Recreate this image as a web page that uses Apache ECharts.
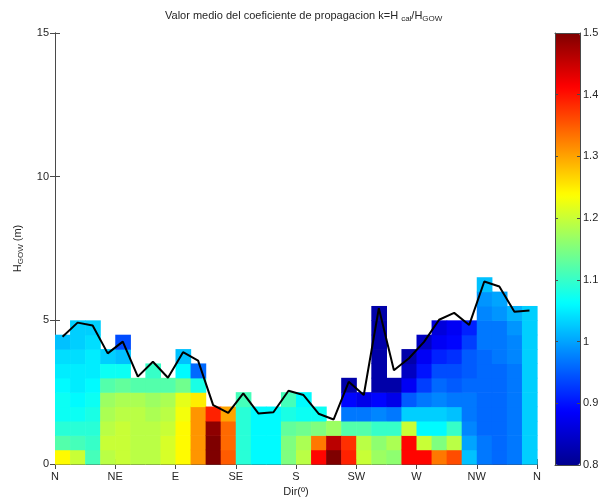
<!DOCTYPE html>
<html><head><meta charset="utf-8">
<script src="https://cdn.jsdelivr.net/npm/echarts@6/dist/echarts.min.js"></script>
<style>html,body{margin:0;padding:0;background:#fff}#c{width:602px;height:499px}</style>
</head><body><div id="c"></div>
<script>
// Direction tick labels (0..360 deg, every 45 deg)
const dirLabels = ['N','NE','E','SE','S','SW','W','NW','N'];
const dirBinWidth = 11.25;   // deg per direction bin (32 bins)
const hBinHeight = 0.5;      // m per H_GOW bin
const kTicks = [0.8, 0.9, 1, 1.1, 1.2, 1.3, 1.4, 1.5];
const hTicks = [0, 5, 10, 15];

// Mean propagation coefficient k per direction bin (N -> N), from H=0 upward in 0.5 m steps
const kByDir = [
  [1.24, 1.12, 1.09, 1.07, 1.07, 1.06, 1.05, 1.04, 1.02],
  [1.20, 1.11, 1.09, 1.07, 1.06, 1.05, 1.05, 1.04, 1.03, 1.03],
  [1.11, 1.10, 1.09, 1.08, 1.07, 1.06, 1.05, 1.05, 1.04, 1.03],
  [1.19, 1.20, 1.19, 1.18, 1.17, 1.12, 1.07, 1.03],
  [1.20, 1.20, 1.20, 1.19, 1.18, 1.13, 1.07, 1.02, 0.94],
  [1.19, 1.19, 1.19, 1.19, 1.18, 1.12],
  [1.19, 1.19, 1.19, 1.18, 1.17, 1.12, 1.10],
  [1.21, 1.21, 1.20, 1.19, 1.18, 1.12],
  [1.24, 1.24, 1.24, 1.23, 1.22, 1.14, 1.06, 1.02],
  [1.31, 1.31, 1.31, 1.31, 1.25, 1.08, 0.96],
  [1.50, 1.50, 1.49, 1.39],
  [1.35, 1.34, 1.34, 1.30],
  [1.09, 1.09, 1.09, 1.09, 1.11],
  [1.06, 1.06, 1.06, 1.06],
  [1.06, 1.06, 1.06, 1.06],
  [1.15, 1.15, 1.13, 1.08, 1.11],
  [1.19, 1.18, 1.14, 1.07, 1.06],
  [1.41, 1.33, 1.15, 1.07],
  [1.50, 1.46, 1.17],
  [1.39, 1.38, 1.12, 0.97, 0.89, 0.82],
  [1.20, 1.19, 1.12, 0.97, 0.87],
  [1.17, 1.16, 1.10, 0.98, 0.89, 0.82, 0.82, 0.82, 0.82, 0.82, 0.82],
  [1.16, 1.18, 1.10, 0.97, 0.87, 0.82],
  [1.41, 1.41, 1.20, 1.03, 0.95, 0.88, 0.84, 0.82],
  [1.41, 1.20, 1.06, 1.03, 0.97, 0.93, 0.90, 0.88, 0.84],
  [1.33, 1.15, 1.06, 1.03, 0.98, 0.96, 0.94, 0.91, 0.88, 0.86],
  [1.36, 1.19, 1.10, 1.02, 0.97, 0.95, 0.94, 0.92, 0.89, 0.88],
  [1.02, 1.00, 0.98, 0.97, 0.97, 0.96, 0.95, 0.95, 0.93, 0.91],
  [0.97, 0.97, 0.96, 0.96, 0.96, 0.96, 0.96, 0.96, 0.97, 0.97, 0.98, 0.99, 1.02],
  [0.96, 0.96, 0.96, 0.96, 0.96, 0.96, 0.96, 0.97, 0.97, 0.97, 0.99, 1.00],
  [0.97, 0.97, 0.97, 0.97, 0.97, 0.97, 0.97, 0.98, 0.98, 0.99, 1.01],
  [1.03, 1.03, 1.03, 1.03, 1.03, 1.03, 1.03, 1.03, 1.03, 1.03, 1.03]
];

// Black line: H_GOW value per direction bin
const meanH = [4.43, 4.92, 4.82, 3.85, 4.26, 3.04, 3.56, 3.00, 3.89, 3.60,
               2.05, 1.78, 2.46, 1.76, 1.80, 2.55, 2.40, 1.75, 1.55, 2.86,
               2.40, 5.42, 3.26, 3.68, 4.25, 5.02, 5.26, 4.84, 6.35, 6.18,
               5.30, 5.34];

const jet = ['#00008F','#0000FF','#007FFF','#00FFFF','#7FFF7F','#FFFF00','#FF7F00','#FF0000','#7F0000'];

const cells = [];
kByDir.forEach((col, i) => col.forEach((k, j) => cells.push([i * dirBinWidth, j * hBinHeight, k])));
const linePts = meanH.map((h, i) => [(i + 0.5) * dirBinWidth, h]);

const FONT = "'Liberation Sans', Arial, sans-serif";
const TXT = '#262626';
const AX = '#4a4a4a';

const chart = echarts.init(document.getElementById('c'), null, {renderer: 'canvas'});
chart.setOption({
  animation: false,
  backgroundColor: '#fff',
  textStyle: {fontFamily: FONT},
  title: {
    text: 'Valor medio del coeficiente de propagacion k=H {sub|cal}/H{sub|GOW}',
    left: 160, top: 4,
    textStyle: {
      fontSize: 11, fontWeight: 'normal', color: TXT, fontFamily: FONT,
      rich: {sub: {fontSize: 8, color: TXT, fontFamily: FONT, padding: [6, 0, 0, 0]}}
    }
  },
  grid: [
    {left: 55, top: 33, width: 482, height: 431, show: false, containLabel: false, outerBoundsMode: 'none'},
    {left: 555, top: 33, width: 25, height: 432, show: false, containLabel: false, outerBoundsMode: 'none'}
  ],
  visualMap: {
    type: 'continuous', min: 0.8, max: 1.5, dimension: 2, seriesIndex: 0,
    calculable: false, orient: 'vertical', left: 555, top: 33,
    itemWidth: 25, itemHeight: 432, padding: 0, text: null, showLabel: false,
    inRange: {color: jet}
  },
  xAxis: [
    {type: 'value', gridIndex: 0, min: 0, max: 360, interval: 45, position: 'bottom',
     axisLine: {show: true, lineStyle: {color: AX}}, axisTick: {inside: true, length: 5, lineStyle: {color: AX}},
     splitLine: {show: false},
     axisLabel: {formatter: v => dirLabels[Math.round(v / 45)], color: TXT, fontSize: 11, margin: 7},
     name: 'Dir(º)', nameLocation: 'middle', nameGap: 21, nameTextStyle: {color: TXT, fontSize: 11}},
    {type: 'value', gridIndex: 0, min: 0, max: 360, interval: 45, position: 'top',
     axisLine: {show: true, lineStyle: {color: AX}}, axisTick: {inside: true, length: 5, lineStyle: {color: AX}},
     splitLine: {show: false}, axisLabel: {show: false}},
    {type: 'value', gridIndex: 1, min: 0, max: 1, position: 'bottom', z: 10,
     axisLine: {show: true, onZero: false, lineStyle: {color: AX}}, axisTick: {show: false}, splitLine: {show: false}, axisLabel: {show: false}},
    {type: 'value', gridIndex: 1, min: 0, max: 1, position: 'top', z: 10,
     axisLine: {show: true, onZero: false, lineStyle: {color: AX}}, axisTick: {show: false}, splitLine: {show: false}, axisLabel: {show: false}}
  ],
  yAxis: [
    {type: 'value', gridIndex: 0, min: 0, max: 15, interval: 5, position: 'left',
     axisLine: {show: true, lineStyle: {color: AX}}, axisTick: {inside: true, length: 5, lineStyle: {color: AX}},
     splitLine: {show: false},
     axisLabel: {color: TXT, fontSize: 11, margin: 6},
     name: 'H{sub|GOW} (m)', nameLocation: 'middle', nameGap: 30, nameRotate: 90,
     nameTextStyle: {color: TXT, fontSize: 11, rich: {sub: {fontSize: 8, color: TXT, padding: [6, 0, 0, 0]}}}},
    {type: 'value', gridIndex: 0, min: 0, max: 15, interval: 5, position: 'right',
     axisLine: {show: true, lineStyle: {color: AX}}, axisTick: {inside: true, length: 5, lineStyle: {color: AX}},
     splitLine: {show: false}, axisLabel: {show: false}},
    {type: 'value', gridIndex: 1, min: 0.8, max: 1.5, interval: 0.1, position: 'right', z: 10,
     axisLine: {show: true, onZero: false, lineStyle: {color: AX}}, axisTick: {inside: true, length: 3, lineStyle: {color: AX}},
     splitLine: {show: false},
     axisLabel: {color: TXT, fontSize: 11, margin: 3, formatter: v => String(Math.round(v * 10) / 10)}},
    {type: 'value', gridIndex: 1, min: 0.8, max: 1.5, interval: 0.1, position: 'left', z: 10,
     axisLine: {show: true, onZero: false, lineStyle: {color: AX}}, axisTick: {inside: true, length: 3, lineStyle: {color: AX}},
     splitLine: {show: false}, axisLabel: {show: false}}
  ],
  series: [
    {
      type: 'custom', xAxisIndex: 0, yAxisIndex: 0,
      dimensions: ['dir', 'h', 'k'], encode: {x: 0, y: 1},
      data: cells,
      renderItem: (params, api) => {
        const x0 = api.value(0), y0 = api.value(1);
        const p0 = api.coord([x0, y0]);
        const p1 = api.coord([x0 + dirBinWidth, y0 + hBinHeight]);
        return {type: 'rect',
          shape: {x: p0[0], y: p1[1], width: p1[0] - p0[0] + 0.6, height: p0[1] - p1[1] + 0.6},
          style: {fill: api.visual('color')}};
      },
      z: 1
    },
    {
      type: 'line', xAxisIndex: 0, yAxisIndex: 0, data: linePts,
      symbol: 'none', lineStyle: {color: '#000', width: 2}, z: 5
    }
  ]
});
</script></body></html>
